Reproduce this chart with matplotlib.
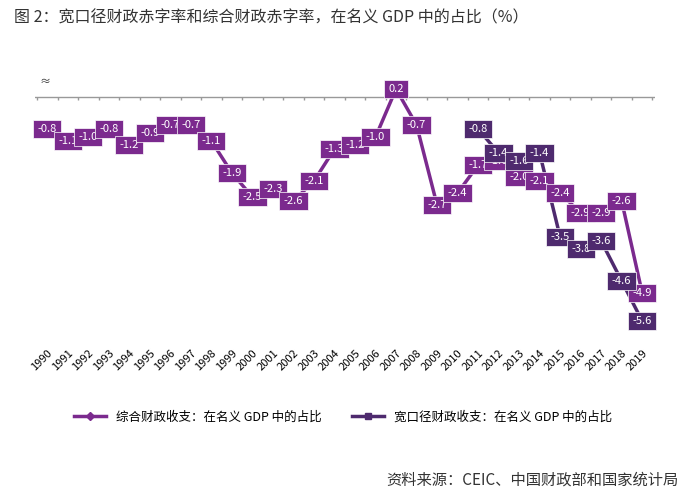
import matplotlib
matplotlib.use("Agg")
import matplotlib.pyplot as plt

plt.rcParams["font.family"] = ["Noto Sans CJK SC", "DejaVu Sans"]

years = list(range(1990, 2020))
general = [-0.8, -1.1, -1.0, -0.8, -1.2, -0.9, -0.7, -0.7, -1.1, -1.9,
           -2.5, -2.3, -2.6, -2.1, -1.3, -1.2, -1.0, 0.2, -0.7, -2.7,
           -2.4, -1.7, -1.6, -2.0, -2.1, -2.4, -2.9, -2.9, -2.6, -4.9]
broad_years = list(range(2011, 2020))
broad = [-0.8, -1.4, -1.6, -1.4, -3.5, -3.8, -3.6, -4.6, -5.6]

c1 = "#7B2A8E"
c2 = "#4E2A6E"

fig = plt.figure(figsize=(7, 5), dpi=100)
ax = fig.add_axes([0.05, 0.31, 0.885, 0.54])
x1 = [y - 1990 for y in years]
x2 = [y - 1990 for y in broad_years]
ax.plot(x1, general, color=c1, lw=2.5, marker="D", ms=4, label="综合财政收支：在名义 GDP 中的占比", zorder=2)
ax.plot(x2, broad, color=c2, lw=2.5, marker="s", ms=4, label="宽口径财政收支：在名义 GDP 中的占比", zorder=3)
for x, v in zip(x1, general):
    ax.text(x, v, f"{v:.1f}", color="white", fontsize=8, ha="center", va="center", zorder=4,
            bbox=dict(boxstyle="square,pad=0.4", fc=c1, ec="white", lw=0.5))
for x, v in zip(x2, broad):
    ax.text(x, v, f"{v:.1f}", color="white", fontsize=8, ha="center", va="center", zorder=5,
            bbox=dict(boxstyle="square,pad=0.4", fc=c2, ec="white", lw=0.5))
ax.axhline(0, color="#999999", lw=1, zorder=1)
ax.vlines([x - 0.5 for x in x1] + [x1[-1] + 0.5], -0.08, 0, color="#999999", lw=1)
ax.set_xlim(-0.6, 29.6)
ax.set_ylim(-6.2, 0.55)
ax.set_xticks(x1)
ax.set_xticklabels([str(y) for y in years], rotation=45, fontsize=8, ha="right", rotation_mode="anchor")
ax.tick_params(axis="x", length=0, pad=2)
ax.set_yticks([])
for s in ax.spines.values():
    s.set_visible(False)
ax.text(-0.4, 0.3, "≈", fontsize=8, color="#333333")

fig.text(0.02, 0.955, "图 2：宽口径财政赤字率和综合财政赤字率，在名义 GDP 中的占比（%）", fontsize=11.5, color="#333333")
fig.legend(loc="lower left", bbox_to_anchor=(0.09, 0.13), ncol=2, frameon=False, fontsize=9, handlelength=2.5, columnspacing=2.5)
fig.text(0.97, 0.03, "资料来源：CEIC、中国财政部和国家统计局", fontsize=11, style="italic", ha="right", color="#333333")
fig.savefig("out.png", dpi=100)
